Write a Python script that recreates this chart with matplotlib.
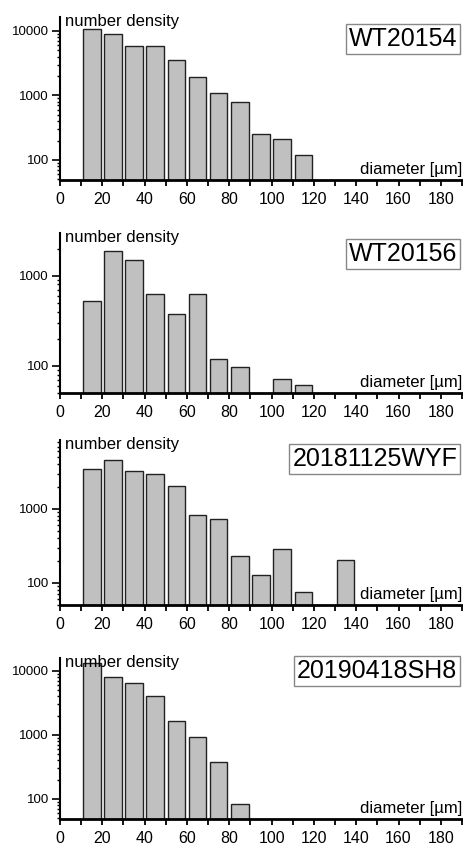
import numpy as np
import matplotlib
matplotlib.use("Agg")
import matplotlib.pyplot as plt
from matplotlib.ticker import MultipleLocator, LogLocator, NullFormatter, FixedLocator

plt.rcParams['font.family'] = ['Liberation Sans', 'DejaVu Sans']

# bin centres (diameter, um)
centers = [15, 25, 35, 45, 55, 65, 75, 85, 95, 105, 115, 125, 135]

# number density per bin, one list per sample (None = empty bin)
wt20154 = [10600, 8880, 5860, 5730, 3520, 1920, 1087, 790, 252, 209, 119, None, None]
wt20156 = [523, 1895, 1493, 631, 375, 626, 118, 96, None, 71, 61, None, None]
wyf20181125 = [3435, 4550, 3230, 2970, 2046, 830, 733, 232, 126, 282, 75, None, 200]
sh8_20190418 = [13200, 8060, 6340, 4065, 1655, 931, 379, 81, None, None, None, None, None]

names = ["WT20154", "WT20156", "20181125WYF", "20190418SH8"]
series = [wt20154, wt20156, wyf20181125, sh8_20190418]
ylims = [(49, 16400), (50, 2980), (50, 8580), (48.7, 15800)]

# axes rectangles in pixel rows (top, bottom) of the 847 px tall figure
rows = [(17, 180), (233, 393), (440, 605), (658, 819)]
# vertical centre of the sample-name box, axes fraction
box_y = [0.865, 0.87, 0.885, 0.92]

W, H = 464, 847
fig = plt.figure(figsize=(W / 100, H / 100), dpi=100)

for name, vals, ylim, (top, bot), by in zip(names, series, ylims, rows, box_y):
    ax = fig.add_axes([60 / W, 1 - bot / H, 402 / W, (bot - top) / H])
    xs = [c for c, v in zip(centers, vals) if v is not None]
    ys = [v for v in vals if v is not None]
    ax.bar(xs, ys, width=8.3, bottom=1, color='#c0c0c0',
           edgecolor='#222222', linewidth=1.0, zorder=2)
    ax.set_yscale('log')
    ax.set_ylim(*ylim)
    ax.set_xlim(0, 190)

    for s in ('top', 'right'):
        ax.spines[s].set_visible(False)
    ax.spines['left'].set_linewidth(1.5)
    ax.spines['bottom'].set_linewidth(2.0)
    ax.spines['bottom'].set_zorder(3)

    ax.xaxis.set_minor_locator(FixedLocator(np.arange(10, 200, 20)))
    ax.tick_params(axis='x', which='both', direction='out', length=4.5,
                   width=1.3, labelsize=11.5, pad=4)
    ax.set_xticks(np.arange(0, 181, 20))

    ax.yaxis.set_major_locator(LogLocator(base=10, numticks=10))
    ax.yaxis.set_minor_locator(LogLocator(base=10, subs=np.arange(2, 10), numticks=10))
    ax.yaxis.set_minor_formatter(NullFormatter())
    ax.yaxis.set_major_formatter(plt.FuncFormatter(lambda v, p: f"{v:.0f}"))
    ax.tick_params(axis='y', which='major', direction='out', length=6,
                   width=1.2, labelsize=9.5, pad=2)
    ax.tick_params(axis='y', which='minor', direction='out', length=2.5, width=1.0)

    ax.text(0.012, 0.972, "number density", transform=ax.transAxes,
            ha='left', va='center', fontsize=12)
    ax.text(1.0, 0.018, "diameter [\u00b5m]", transform=ax.transAxes,
            ha='right', va='bottom', fontsize=12)
    ax.text(0.988, by, name, transform=ax.transAxes, ha='right', va='center',
            fontsize=18,
            bbox=dict(boxstyle='square,pad=0.12', fc='white', ec='#888888', lw=1.0))

fig.savefig("out.png", dpi=100)
